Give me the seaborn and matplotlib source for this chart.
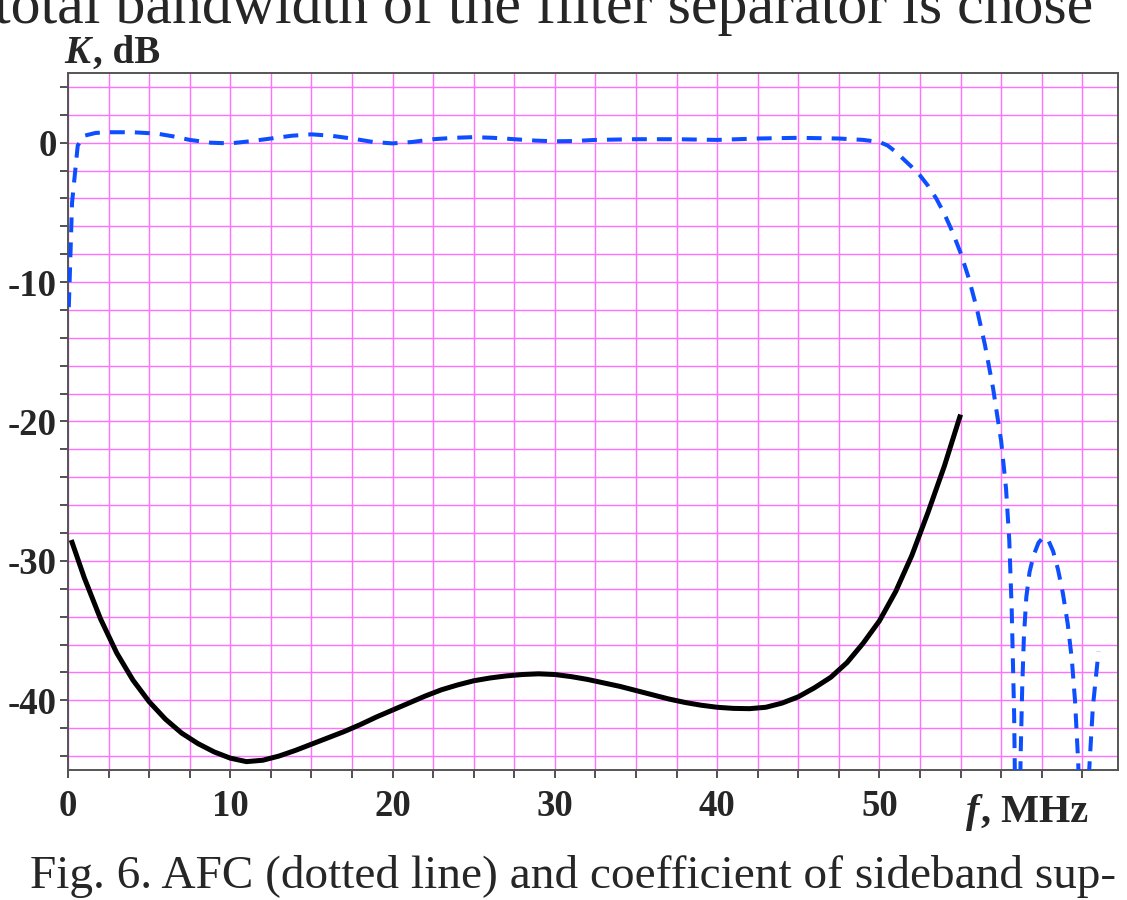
import pandas as pd
import seaborn as sns
import matplotlib.pyplot as plt
from matplotlib.ticker import FixedLocator, MultipleLocator

# AFC of the filter separator (dashed blue)
afc_freq = [0.05, 0.25, 0.6, 1.0, 1.7, 2.5, 4.0, 5.5, 6.5, 7.5, 8.8, 10.0, 11.2, 12.5,
            13.8, 15.0, 16.2, 17.5, 18.8, 20.0, 21.2, 22.5, 23.8, 25.0, 26.2, 27.5,
            28.8, 30.0, 31.2, 32.5, 35.0, 37.5, 40.0, 42.5, 45.0, 47.5, 49.0, 50.0,
            50.5, 51.0, 51.5, 52.0, 52.5, 53.0, 53.5, 54.0, 54.5, 55.0, 55.5, 56.0,
            56.5, 57.0, 57.5, 57.8, 58.0, 58.15, 58.3, 58.5, 58.7, 58.8, 58.9, 59.05,
            59.25, 59.5, 59.8, 60.1, 60.4, 60.7, 61.0, 61.3, 61.6, 61.85, 62.05, 62.25,
            62.55, 62.9, 63.15, 63.5]
afc_db = [-11.8, -4.3, -0.2, 0.5, 0.7, 0.75, 0.75, 0.65, 0.45, 0.2, 0.0, -0.05, 0.1, 0.3,
          0.5, 0.6, 0.5, 0.3, 0.05, -0.05, 0.05, 0.25, 0.35, 0.4, 0.35, 0.25,
          0.15, 0.1, 0.12, 0.2, 0.25, 0.25, 0.2, 0.3, 0.35, 0.3, 0.2, 0.05,
          -0.2, -0.65, -1.2, -1.75, -2.35, -3.1, -4.0, -5.1, -6.4, -7.9, -9.7, -11.9,
          -14.5, -17.6, -21.4, -24.8, -28.5, -33.5, -41.0, -60.0, -44.0, -39.0, -35.5, -32.6,
          -30.8, -29.6, -28.7, -28.3, -28.5, -29.3, -30.6, -32.3, -34.5, -37.0, -40.0, -44.5,
          -60.0, -45.5, -40.5, -36.5]

# sideband suppression coefficient (solid black)
ssb_freq = [0.2, 1, 2, 3, 4, 5, 6, 7, 8, 9, 10, 11, 12, 13, 14, 15, 16, 17, 18, 19,
            20, 21, 22, 23, 24, 25, 26, 27, 28, 29, 30, 31, 32, 33, 34, 35, 36, 37,
            38, 39, 40, 41, 42, 43, 44, 45, 46, 47, 48, 49, 50, 51, 52, 53, 54, 55]
ssb_db = [-28.5, -31.2, -34.15, -36.6, -38.55, -40.1, -41.35, -42.35, -43.1, -43.7,
          -44.15, -44.4, -44.3, -44.0, -43.6, -43.15, -42.7, -42.25, -41.75, -41.2,
          -40.7, -40.2, -39.7, -39.25, -38.9, -38.6, -38.4, -38.25, -38.15, -38.1,
          -38.15, -38.3, -38.5, -38.75, -39.0, -39.3, -39.6, -39.9, -40.15, -40.35,
          -40.5, -40.58, -40.6, -40.5, -40.2, -39.75, -39.1, -38.35, -37.3, -35.9,
          -34.3, -32.2, -29.6, -26.5, -23.2, -19.5]

x_major = [0, 10, 20, 30, 40, 50]
y_major = [-40, -30, -20, -10, 0]

afc = pd.DataFrame({"f": afc_freq, "K": afc_db})
ssb = pd.DataFrame({"f": ssb_freq, "K": ssb_db})

sns.set_style("white")
plt.rcParams["font.family"] = ["Liberation Serif", "DejaVu Serif"]

fig = plt.figure(figsize=(11.27, 9), dpi=100)
ax = fig.add_axes([68 / 1127, 130 / 900, 1050 / 1127, 697 / 900])

sns.lineplot(data=ssb, x="f", y="K", ax=ax, color="black", linewidth=3.6,
             solid_capstyle="butt", solid_joinstyle="round", zorder=3)
sns.lineplot(data=afc, x="f", y="K", ax=ax, color="#0d4fff", linewidth=2.9,
             linestyle=(0, (3.7, 2.5)), dash_capstyle="butt", zorder=3)

ax.set_xlim(0, 64.7)
ax.set_ylim(-45, 5)

ax.xaxis.set_major_locator(FixedLocator(x_major))
ax.xaxis.set_minor_locator(MultipleLocator(2.5))
ax.yaxis.set_major_locator(FixedLocator(y_major))
ax.yaxis.set_minor_locator(MultipleLocator(2))
ax.set_xticklabels([str(v) for v in x_major])
ax.set_yticklabels([str(v) for v in y_major])

ax.grid(True, which="both", color="#ff70ff", linewidth=1.0, zorder=0)
ax.set_axisbelow(True)
ax.tick_params(axis="both", which="both", direction="out", length=6, width=1.2,
               color="#333333", bottom=True, left=True)
ax.tick_params(axis="x", which="major", labelsize=26.5, pad=8)
ax.tick_params(axis="y", which="major", labelsize=26.5, pad=2)
for lab in ax.get_xticklabels() + ax.get_yticklabels():
    lab.set_fontweight("bold")

for sp in ax.spines.values():
    sp.set_color("#555555")
    sp.set_linewidth(1.4)

ax.set_xlabel("")
ax.set_ylabel("")

# axis captions: italic symbol followed by bold units
k = fig.text(64 / 1127, 1 - 63 / 900, "K", fontsize=28, fontstyle="italic",
             fontweight="bold", va="baseline")
ax.annotate(", dB", xy=(1, 0), xycoords=k, xytext=(2, 0), textcoords="offset points",
            fontsize=28, fontweight="bold", va="bottom", annotation_clip=False)
fm = fig.text(966 / 1127, 1 - 822 / 900, "f", fontsize=29, fontstyle="italic",
              fontweight="bold", va="baseline")
ax.annotate(", MHz", xy=(1, 0), xycoords=fm, xytext=(1, 0), textcoords="offset points",
            fontsize=29, fontweight="bold", va="bottom", annotation_clip=False)

# surrounding page text (the line above is cut by the page crop, as in the source)
fig.text(-6 / 1127, 1 - 23 / 900, "total bandwidth of the filter separator is chose",
         fontsize=43, va="baseline", ha="left")
fig.text(30 / 1127, 1 - 888 / 900, "Fig. 6. AFC (dotted line) and coefficient of sideband sup-",
         fontsize=34, va="baseline", ha="left")

fig.savefig("out.png", dpi=100)
